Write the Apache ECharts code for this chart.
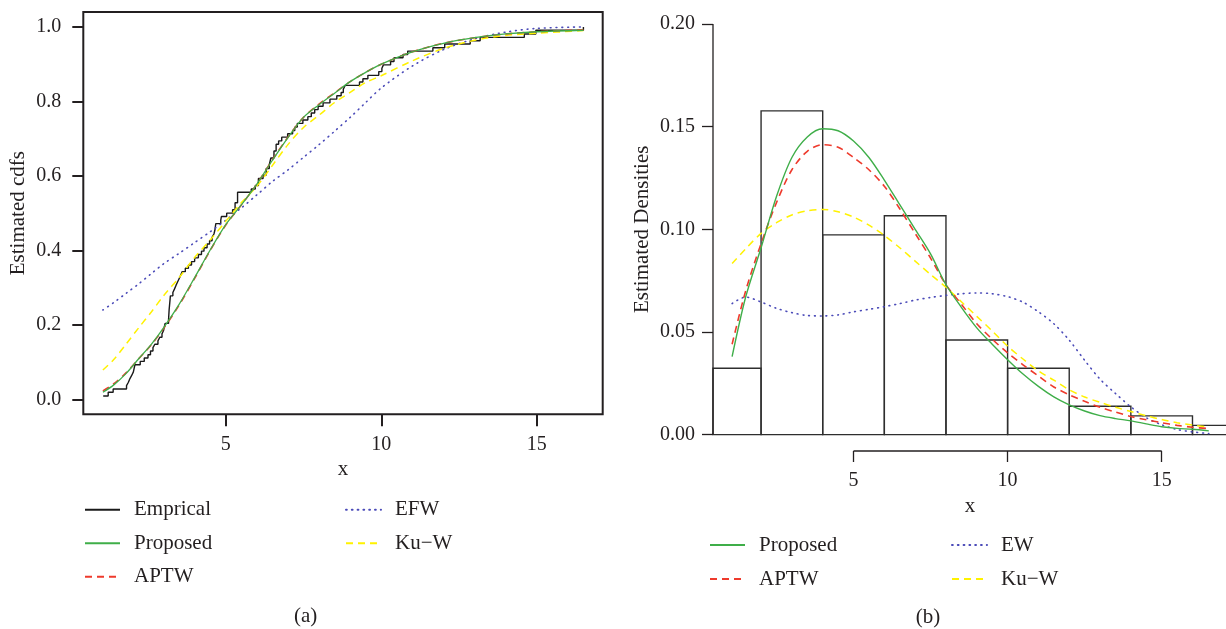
<!DOCTYPE html>
<html><head><meta charset="utf-8">
<script src="https://cdn.jsdelivr.net/npm/echarts@6/dist/echarts.min.js"></script>
<style>html,body{margin:0;padding:0;background:#fff}#c{width:1226px;height:629px}</style>
</head><body><div id="c"></div>
<script>
// ---- Panel (a): empirical CDF steps (x of jump, F after jump) ----
const ecdfX = [1.06,1.22,1.38,1.81,1.87,1.92,1.98,2.03,2.08,2.25,2.38,2.5,2.58,2.66,2.72,2.82,2.88,2.95,3.0,3.05,3.16,3.18,3.2,3.22,3.3,3.35,3.4,3.45,3.5,3.55,3.6,3.7,3.8,3.9,4.0,4.12,4.22,4.3,4.4,4.48,4.56,4.62,4.65,4.68,4.84,4.86,5.03,5.22,5.3,5.38,5.82,5.95,6.05,6.2,6.3,6.4,6.45,6.55,6.62,6.7,6.8,6.99,7.15,7.22,7.3,7.48,7.64,7.75,7.86,7.97,8.13,8.35,8.57,8.71,8.78,8.84,9.3,9.41,9.57,9.92,10.02,10.07,10.3,10.41,10.7,10.85,11.66,12.04,12.86,13.18,14.6,14.97,16.5];
const ecdfF = [0.009,0.019,0.028,0.037,0.046,0.056,0.065,0.074,0.093,0.102,0.111,0.12,0.13,0.139,0.148,0.157,0.167,0.176,0.185,0.204,0.213,0.241,0.259,0.278,0.287,0.296,0.306,0.315,0.324,0.333,0.343,0.352,0.361,0.37,0.38,0.389,0.398,0.407,0.417,0.426,0.435,0.444,0.454,0.472,0.481,0.491,0.5,0.509,0.528,0.556,0.565,0.574,0.593,0.602,0.62,0.63,0.648,0.667,0.685,0.694,0.704,0.713,0.722,0.731,0.741,0.75,0.759,0.769,0.778,0.787,0.796,0.806,0.815,0.824,0.833,0.843,0.852,0.861,0.87,0.88,0.889,0.898,0.907,0.917,0.926,0.935,0.944,0.954,0.963,0.972,0.981,0.991,1.0];

// ---- Panel (a): fitted CDFs ----
const cdfX        = [1.05,1.4,1.8,2.2,2.6,3.0,3.5,4.0,4.5,5.0,5.5,6.0,6.5,7.0,7.5,8.0,8.5,9.0,9.5,10.0,11.0,12.0,13.0,14.0,15.0,16.5];
const cdfProposed = [0.019,0.039,0.070,0.109,0.147,0.192,0.255,0.327,0.401,0.469,0.522,0.578,0.642,0.703,0.757,0.791,0.822,0.853,0.878,0.900,0.933,0.956,0.971,0.981,0.987,0.991];
const cdfAPTW     = [0.023,0.042,0.072,0.109,0.146,0.190,0.253,0.325,0.400,0.468,0.522,0.578,0.643,0.704,0.757,0.793,0.823,0.853,0.878,0.900,0.933,0.956,0.971,0.981,0.987,0.992];
const cdfEFW      = [0.240,0.260,0.285,0.310,0.337,0.364,0.392,0.421,0.450,0.481,0.514,0.549,0.585,0.616,0.650,0.684,0.720,0.757,0.797,0.836,0.895,0.939,0.968,0.986,0.996,1.000];
const cdfKuW      = [0.079,0.107,0.149,0.192,0.234,0.278,0.327,0.381,0.428,0.478,0.528,0.572,0.628,0.684,0.730,0.763,0.797,0.824,0.851,0.869,0.909,0.942,0.964,0.977,0.983,0.990];

// ---- Panel (b): histogram ----
const binEdges   = [0,2,4,6,8,10,12,14,16,18];
const binDensity = [0.0323,0.1577,0.0973,0.1066,0.0461,0.0323,0.0138,0.0091,0.0045];

// ---- Panel (b): fitted densities ----
const densX        = [1.06,1.5,2.0,2.5,3.0,3.5,4.0,4.5,5.0,5.5,6.0,6.5,7.0,7.5,8.0,8.5,9.0,9.5,10.0,10.5,11.0,11.5,12.0,12.5,13.0,13.5,14.0,14.5,15.0,15.5,16.0,16.53];
const densProposed = [0.038,0.067,0.091,0.116,0.135,0.145,0.149,0.148,0.143,0.135,0.124,0.112,0.100,0.088,0.073,0.062,0.052,0.044,0.0365,0.0295,0.0235,0.0184,0.0145,0.0115,0.0092,0.0078,0.0067,0.0052,0.0038,0.0030,0.0026,0.0018];
const densAPTW     = [0.044,0.070,0.093,0.113,0.129,0.138,0.1412,0.140,0.135,0.129,0.121,0.110,0.098,0.086,0.073,0.0635,0.054,0.0465,0.0398,0.034,0.0285,0.0232,0.0194,0.0162,0.0133,0.011,0.0088,0.0072,0.0058,0.0045,0.0036,0.0029];
const densEW       = [0.0638,0.067,0.0646,0.0615,0.0594,0.058,0.0578,0.0583,0.0598,0.061,0.0623,0.0638,0.0655,0.0668,0.0678,0.0686,0.069,0.0686,0.0672,0.0645,0.0598,0.054,0.046,0.0362,0.027,0.020,0.0135,0.0082,0.0048,0.0025,0.0013,0.0005];
const densKuW      = [0.0833,0.0905,0.098,0.1032,0.107,0.109,0.1097,0.1085,0.106,0.102,0.097,0.091,0.0845,0.078,0.0718,0.0647,0.0576,0.0505,0.0431,0.0368,0.031,0.0265,0.0218,0.0183,0.0157,0.0133,0.0112,0.0092,0.0073,0.0058,0.0046,0.0037];

// ---- ticks ----
const xTicks    = [5,10,15];
const cdfTicks  = [0,0.2,0.4,0.6,0.8,1.0];
const densTicks = [0,0.05,0.10,0.15,0.20];

const INK = '#231f20';
const FONT = 'Liberation Serif';
const C_GREEN = '#3fae49', C_RED = '#ee3a2c', C_YEL = '#fff200', C_BLUE = '#4a4ab8';

const zip = (xs, ys) => xs.map((x, i) => [x, ys[i]]);

const xL = {min: 0.42, max: 17.12}, yL = {min: -0.04, max: 1.04};
const xR = {min: 0.44, max: 17.12}, yR = {min: -0.008, max: 0.208};

const chart = echarts.init(document.getElementById('c'), null, {renderer: 'canvas'});

const DOT = [0.8, 5];
const DASH = [7, 5];

function fitLine(name, data, color, type, width, xi, yi) {
  return {
    type: 'line', name, data, xAxisIndex: xi, yAxisIndex: yi,
    symbol: 'none', smooth: 0.3, silent: true, animation: false,
    lineStyle: {color, type, width, cap: type === DOT ? 'round' : 'butt'},
    itemStyle: {color}
  };
}

const axisText = {color: INK, fontFamily: FONT, fontSize: 20};
const legendCommon = {
  orient: 'vertical', itemWidth: 35, itemHeight: 14, padding: 0, selectedMode: false,
  itemStyle: {color: 'rgba(0,0,0,0)', borderWidth: 0, opacity: 0},
  textStyle: {color: INK, fontFamily: FONT, fontSize: 21, lineHeight: 20, padding: [0, 0, 0, 9]}
};

const option = {
  animation: false,
  textStyle: {fontFamily: FONT, color: INK},
  grid: [
    {left: 83.3, top: 12, width: 519.4, height: 402.3, show: true, borderColor: INK, borderWidth: 2, backgroundColor: 'transparent', containLabel: false, outerBoundsMode: 'none'},
    {left: 713, top: 7.6, width: 514, height: 443.4, show: false, containLabel: false, outerBoundsMode: 'none'}
  ],
  xAxis: [
    {type: 'value', gridIndex: 0, min: xL.min, max: xL.max,
     name: 'x', nameLocation: 'middle', nameGap: 42,
     nameTextStyle: {color: INK, fontFamily: FONT, fontSize: 21},
     axisLine: {show: false, onZero: false},
     axisTick: {show: true, inside: false, length: 12, customValues: xTicks, lineStyle: {color: INK, width: 2}},
     axisLabel: Object.assign({customValues: xTicks, margin: 20}, axisText),
     splitLine: {show: false}},
    {type: 'value', gridIndex: 1, min: xR.min, max: xR.max,
     name: 'x', nameLocation: 'middle', nameGap: 43,
     nameTextStyle: {color: INK, fontFamily: FONT, fontSize: 21},
     axisLine: {show: false, onZero: false},
     axisTick: {show: true, inside: false, length: 11, customValues: xTicks, lineStyle: {color: INK, width: 1.3}},
     axisLabel: Object.assign({customValues: xTicks, margin: 20}, axisText),
     splitLine: {show: false}}
  ],
  yAxis: [
    {type: 'value', gridIndex: 0, min: yL.min, max: yL.max,
     name: 'Estimated cdfs', nameLocation: 'middle', nameGap: 54,
     nameTextStyle: {color: INK, fontFamily: FONT, fontSize: 21},
     axisLine: {show: false, onZero: false},
     axisTick: {show: true, inside: false, length: 11, customValues: cdfTicks, lineStyle: {color: INK, width: 2}},
     axisLabel: Object.assign({customValues: cdfTicks, margin: 22, formatter: v => Number(v).toFixed(1)}, axisText),
     splitLine: {show: false}},
    {type: 'value', gridIndex: 1, min: yR.min, max: yR.max,
     name: 'Estimated Densities', nameLocation: 'middle', nameGap: 60,
     nameTextStyle: {color: INK, fontFamily: FONT, fontSize: 21},
     axisLine: {show: false, onZero: false},
     axisTick: {show: true, inside: false, length: 11, customValues: densTicks, lineStyle: {color: INK, width: 1.3}},
     axisLabel: Object.assign({customValues: densTicks, margin: 18, formatter: v => Number(v).toFixed(2)}, axisText),
     splitLine: {show: false}}
  ],
  legend: [
    Object.assign({data: ['Emprical', 'Proposed', 'APTW'], left: 84, top: 499.3, itemGap: 12.5}, legendCommon),
    Object.assign({data: ['EFW', 'Ku−W'], left: 345, top: 499.3, itemGap: 12.5}, legendCommon),
    Object.assign({data: ['Proposed', 'APTW'], left: 709, top: 534.5, itemGap: 13}, legendCommon),
    Object.assign({data: ['EW', 'Ku−W'], left: 951, top: 534.5, itemGap: 13}, legendCommon)
  ],
  graphic: [
    {type: 'text', x: 305.7, y: 616, style: {text: '(a)', fill: INK, font: '21px "Liberation Serif"', textAlign: 'center', textVerticalAlign: 'middle'}},
    {type: 'text', x: 928, y: 617, style: {text: '(b)', fill: INK, font: '21px "Liberation Serif"', textAlign: 'center', textVerticalAlign: 'middle'}}
  ],
  series: [
    // panel (a)
    {type: 'line', name: 'Emprical', data: zip(ecdfX, ecdfF), step: 'end', xAxisIndex: 0, yAxisIndex: 0,
     symbol: 'none', silent: true, lineStyle: {color: '#1a1a1a', width: 1.4}, itemStyle: {color: '#1a1a1a'}},
    fitLine('EFW', zip(cdfX, cdfEFW), C_BLUE, DOT, 1.6, 0, 0),
    fitLine('Ku−W', zip(cdfX, cdfKuW), C_YEL, DASH, 1.5, 0, 0),
    fitLine('APTW', zip(cdfX, cdfAPTW), C_RED, DASH, 1.6, 0, 0),
    fitLine('Proposed', zip(cdfX, cdfProposed), C_GREEN, 'solid', 1.3, 0, 0),
    // panel (b) histogram
    {type: 'custom', name: 'hist', xAxisIndex: 1, yAxisIndex: 1, silent: true,
     data: binDensity.map((d, i) => [binEdges[i], binEdges[i + 1], d]),
     encode: {x: [0, 1], y: 2},
     renderItem: function (params, api) {
       const p0 = api.coord([api.value(0), api.value(2)]);
       const p1 = api.coord([api.value(1), 0]);
       const cs = params.coordSys;
       const r = echarts.graphic.clipRectByRect(
         {x: p0[0], y: p0[1], width: p1[0] - p0[0], height: p1[1] - p0[1]},
         {x: cs.x, y: cs.y, width: cs.width, height: cs.height});
       if (!r) return null;
       return {type: 'rect', shape: r, style: {fill: 'none', stroke: '#2e2e2e', lineWidth: 1.4}};
     }},
    // R-style partial axis lines for panel (b)
    {type: 'line', name: '_yaxis', xAxisIndex: 1, yAxisIndex: 1, data: [[xR.min, densTicks[0]], [xR.min, densTicks[densTicks.length - 1]]],
     symbol: 'none', silent: true, clip: false, lineStyle: {color: INK, width: 1.3}},
    {type: 'line', name: '_xaxis', xAxisIndex: 1, yAxisIndex: 1, data: [[xTicks[0], yR.min], [xTicks[xTicks.length - 1], yR.min]],
     symbol: 'none', silent: true, clip: false, lineStyle: {color: INK, width: 1.3}},
    fitLine('EW', zip(densX, densEW), C_BLUE, DOT, 1.6, 1, 1),
    fitLine('Ku−W', zip(densX, densKuW), C_YEL, DASH, 1.5, 1, 1),
    fitLine('APTW', zip(densX, densAPTW), C_RED, DASH, 1.6, 1, 1),
    fitLine('Proposed', zip(densX, densProposed), C_GREEN, 'solid', 1.4, 1, 1)
  ]
};
chart.setOption(option);
</script>
</body></html>
